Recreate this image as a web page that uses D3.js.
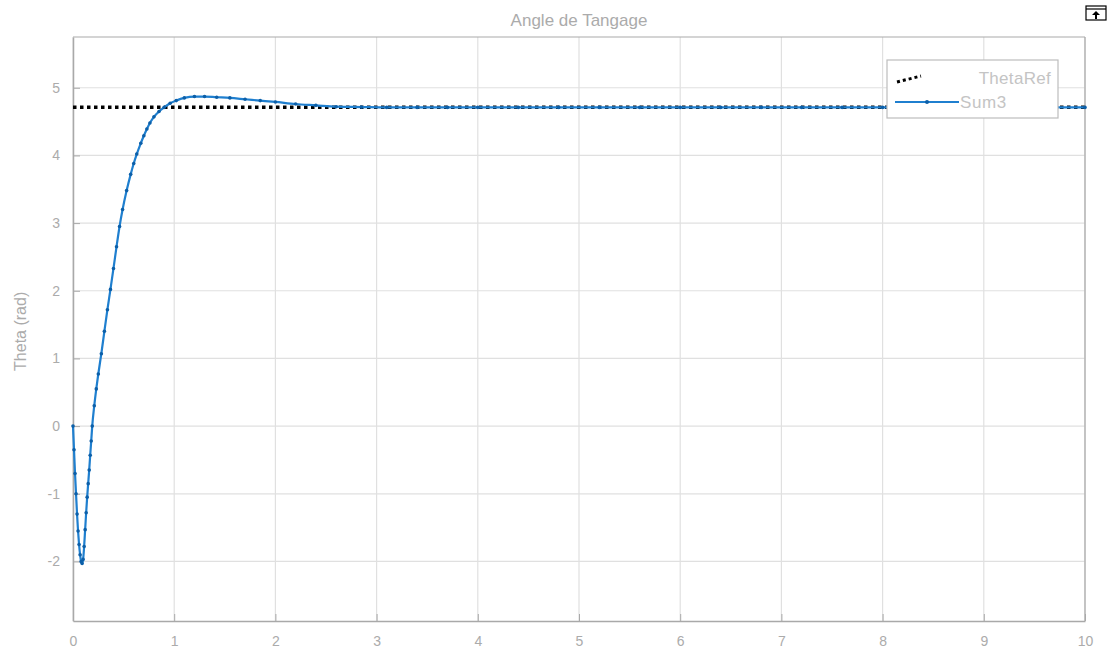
<!DOCTYPE html>
<html>
<head>
<meta charset="utf-8">
<script src="https://cdn.jsdelivr.net/npm/d3@7"></script>
<style>
  body { margin: 0; background: #fff; }
  text { font-family: "Liberation Sans", Arial, sans-serif; }
</style>
</head>
<body>
<svg class="chart" width="1118" height="657"></svg>
<script>
// Simulink scope: pitch angle response
const time = [0, 0.01, 0.02, 0.03, 0.04, 0.05, 0.06, 0.07, 0.08, 0.09, 0.10, 0.11, 0.12, 0.13, 0.14, 0.15, 0.16, 0.17, 0.18, 0.19,
  0.21, 0.23, 0.25, 0.28, 0.31, 0.34, 0.37, 0.40, 0.43, 0.46, 0.49, 0.53, 0.57, 0.60, 0.63, 0.67, 0.70, 0.73, 0.76, 0.80,
  0.85, 0.90, 0.96, 1.02, 1.10, 1.20, 1.30, 1.42, 1.55, 1.70, 1.85, 2.00, 2.20, 2.40, 2.60, 2.85, 3.1, 3.4, 3.7, 4.0,
  4.4, 4.8, 5.2, 5.6, 6.0, 6.4, 6.8, 7.2, 7.6, 8.0, 8.4, 8.8, 9.2, 9.6, 10]
const theta = [0, -0.35, -0.7, -1.0, -1.3, -1.55, -1.75, -1.9, -2.0, -2.03, -1.97, -1.78, -1.53, -1.28, -1.05, -0.85, -0.65, -0.43, -0.22, 0,
  0.3, 0.55, 0.77, 1.07, 1.4, 1.72, 2.02, 2.33, 2.65, 2.95, 3.2, 3.48, 3.72, 3.88, 4.02, 4.18, 4.29, 4.39, 4.48, 4.57,
  4.65, 4.71, 4.77, 4.81, 4.85, 4.87, 4.87, 4.86, 4.85, 4.83, 4.81, 4.79, 4.76, 4.74, 4.72, 4.715, 4.71, 4.71, 4.71, 4.71,
  4.71, 4.71, 4.71, 4.71, 4.71, 4.71, 4.71, 4.71, 4.71, 4.71, 4.71, 4.71, 4.71, 4.71, 4.71]
const thetaRef = 4.712
const xTicks = [0, 1, 2, 3, 4, 5, 6, 7, 8, 9, 10]
const yTicks = [-2, -1, 0, 1, 2, 3, 4, 5]
const seriesNames = ["ThetaRef", "Sum3"]

const svg = d3.select(".chart")
const margin = {top: 37, left: 73, right: 33, bottom: 36}
const width = 1118, height = 657

const xScale = d3.scaleLinear()
  .domain([0, 10])
  .range([margin.left, width - margin.right])

const yScale = d3.scaleLinear()
  .domain([-2.88, 5.75])
  .range([height - margin.bottom, margin.top])

const axisCol = "#a9a9a9", gridCol = "#e0e0e0", textCol = "#ababab"
const fmt = d => String(d)  // plain hyphen minus like the scope

// grid
svg.append("g").selectAll("line.vgrid")
  .data(xTicks).enter().append("line")
  .attr("x1", d => xScale(d)).attr("x2", d => xScale(d))
  .attr("y1", margin.top).attr("y2", height - margin.bottom)
  .attr("stroke", gridCol).attr("stroke-width", 1.2)

svg.append("g").selectAll("line.hgrid")
  .data(yTicks).enter().append("line")
  .attr("x1", margin.left).attr("x2", width - margin.right)
  .attr("y1", d => yScale(d)).attr("y2", d => yScale(d))
  .attr("stroke", gridCol).attr("stroke-width", 1.2)

// axes
const xAxis = svg.append("g")
  .attr("transform", `translate(0, ${height - margin.bottom})`)
  .call(d3.axisBottom(xScale).tickValues(xTicks).tickFormat(fmt).tickSizeInner(-7).tickSizeOuter(0).tickPadding(15))
const yAxis = svg.append("g")
  .attr("transform", `translate(${margin.left}, 0)`)
  .call(d3.axisLeft(yScale).tickValues(yTicks).tickFormat(fmt).tickSizeInner(-7).tickSizeOuter(0).tickPadding(13))

for (const ax of [xAxis, yAxis]) {
  ax.select(".domain").attr("stroke", axisCol).attr("stroke-width", 1.5)
  ax.selectAll(".tick line").attr("stroke", axisCol)
  ax.selectAll(".tick text").attr("fill", textCol).style("font-size", "14px")
}
xAxis.selectAll(".tick text").attr("dy", "0.71em")
yAxis.selectAll(".tick text").attr("text-anchor", "end")

// box top/right
svg.append("line")
  .attr("x1", margin.left).attr("x2", width - margin.right)
  .attr("y1", margin.top).attr("y2", margin.top)
  .attr("stroke", axisCol).attr("stroke-width", 1.2)
svg.append("line")
  .attr("x1", width - margin.right).attr("x2", width - margin.right)
  .attr("y1", margin.top).attr("y2", height - margin.bottom)
  .attr("stroke", axisCol).attr("stroke-width", 1.2)

// reference line
svg.append("line")
  .attr("x1", xScale(0)).attr("x2", xScale(10))
  .attr("y1", yScale(thetaRef)).attr("y2", yScale(thetaRef))
  .attr("stroke", "#000").attr("stroke-width", 3.5)
  .attr("stroke-dasharray", "3.5,3.5")

// response
const data = time.map((t, i) => ({t: t, v: theta[i]}))
const line = d3.line().x(d => xScale(d.t)).y(d => yScale(d.v)).curve(d3.curveMonotoneX)

svg.append("path")
  .datum(data)
  .attr("d", line)
  .attr("fill", "none")
  .attr("stroke", "#1f7fcf")
  .attr("stroke-width", 2.2)

svg.append("g").selectAll("circle.pt")
  .data(data).enter().append("circle")
  .attr("cx", d => xScale(d.t))
  .attr("cy", d => yScale(d.v))
  .attr("r", 1.8)
  .attr("fill", "#0c5fa8")

// title + labels
svg.append("text")
  .attr("x", (margin.left + width - margin.right) / 2)
  .attr("y", 26)
  .attr("text-anchor", "middle")
  .attr("fill", textCol)
  .style("font-size", "17px")
  .text("Angle de Tangage")

svg.append("text")
  .attr("transform", `translate(26, ${yScale(1.4)}) rotate(-90)`)
  .attr("text-anchor", "middle")
  .attr("fill", textCol)
  .style("font-size", "16px")
  .text("Theta (rad)")

// legend
const lg = svg.append("g").attr("transform", "translate(887, 60)")
lg.append("rect")
  .attr("width", 171).attr("height", 58)
  .attr("fill", "#fff").attr("stroke", "#bdbdbd").attr("stroke-width", 1.2)
lg.append("line")
  .attr("x1", 10).attr("x2", 34).attr("y1", 22).attr("y2", 16)
  .attr("stroke", "#000").attr("stroke-width", 3).attr("stroke-dasharray", "3,3")
lg.append("line")
  .attr("x1", 8).attr("x2", 72).attr("y1", 42).attr("y2", 42)
  .attr("stroke", "#1f7fcf").attr("stroke-width", 2)
lg.append("circle").attr("cx", 40).attr("cy", 42).attr("r", 2).attr("fill", "#0c5fa8")
lg.selectAll("text.leg")
  .data(seriesNames).enter().append("text")
  .attr("x", (d, i) => i === 0 ? 164 : 73)
  .attr("y", (d, i) => 24 + i * 24)
  .attr("text-anchor", (d, i) => i === 0 ? "end" : "start")
  .attr("fill", "#c4c4c4")
  .style("font-size", "17px")
  .style("letter-spacing", (d, i) => i === 0 ? "0.3px" : "0.6px")
  .text(d => d)

// undock icon top right
const ic = svg.append("g").attr("transform", "translate(1086, 6)")
ic.append("rect").attr("width", 20).attr("height", 14).attr("fill", "#fff").attr("stroke", "#000").attr("stroke-width", 1.2)
ic.append("line").attr("x1", 0).attr("x2", 20).attr("y1", 3).attr("y2", 3).attr("stroke", "#000").attr("stroke-width", 1.2)
ic.append("path").attr("d", "M10,5 L6,9 L9,9 L9,13 L11,13 L11,9 L14,9 Z").attr("fill", "#000")
</script>
</body>
</html>
